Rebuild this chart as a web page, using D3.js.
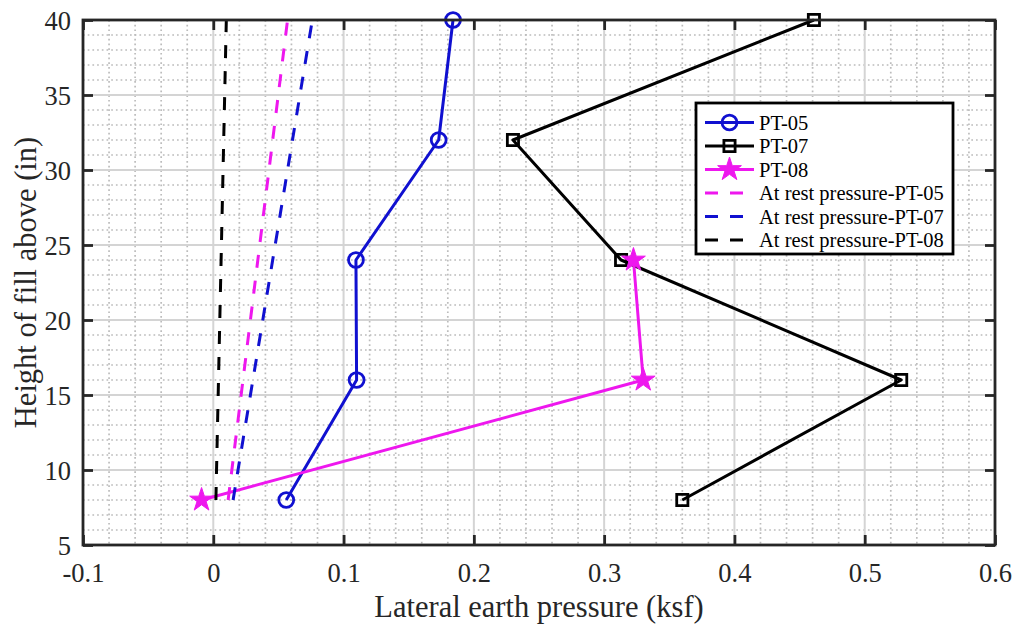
<!DOCTYPE html>
<html>
<head>
<meta charset="utf-8">
<script src="https://cdn.jsdelivr.net/npm/d3@7"></script>
<style>
  html, body { margin: 0; padding: 0; background: #fff; }
  svg { display: block; }
  svg text { font-family: "Liberation Serif", "Times New Roman", serif; fill: #262626; }
</style>
</head>
<body>
<svg id="chart" width="1018" height="626"></svg>
<script>
// Measured lateral earth pressure (ksf) at each height of fill above (in)
const heights = [40, 32, 24, 16, 8];
const pt05 = [0.184, 0.173, 0.1095, 0.110, 0.056];
const pt07 = [0.461, 0.230, 0.313, 0.528, 0.360];
const pt08Heights = [24, 16, 8];
const pt08 = [0.3225, 0.330, -0.009];

// At-rest pressure lines (endpoints at 8 in and 40 in of fill)
const restHeights = [8, 40];
const rest05 = [0.0114, 0.057];
const rest07 = [0.0152, 0.076];
const rest08 = [0.002, 0.010];

const xDomain = [-0.1, 0.6];
const yDomain = [5, 40];
const xTickLabels = ["-0.1", "0", "0.1", "0.2", "0.3", "0.4", "0.5", "0.6"];
const yTickLabels = ["5", "10", "15", "20", "25", "30", "35", "40"];

const legendLabels = ["PT-05", "PT-07", "PT-08",
  "At rest pressure-PT-05", "At rest pressure-PT-07", "At rest pressure-PT-08"];

const BLUE = "#1010d0", MAGENTA = "#ee17ee", BLACK = "#000";
const SERIF = '"Liberation Serif", "Times New Roman", serif';

const svg = d3.select("#chart");
const m = { left: 83, right: 995, top: 20, bottom: 545 };

const x = d3.scaleLinear().domain(xDomain).range([m.left, m.right]);
const y = d3.scaleLinear().domain(yDomain).range([m.bottom, m.top]);

const xMajor = x.ticks(7);
const yMajor = y.ticks(7);
const near = (v, arr) => arr.some(a => Math.abs(a - v) < 1e-9);
const xMinor = x.ticks(35).filter(v => !near(v, xMajor));
const yMinor = y.ticks(35).filter(v => !near(v, yMajor));

// Plot background
svg.append("rect").attr("x", m.left).attr("y", m.top)
  .attr("width", m.right - m.left).attr("height", m.bottom - m.top).attr("fill", "#fff");

// Minor grid (dotted)
const grid = svg.append("g");
grid.selectAll(".vmin").data(xMinor).join("line")
  .attr("x1", d => x(d)).attr("x2", d => x(d)).attr("y1", m.top).attr("y2", m.bottom)
  .attr("stroke", "#bcbcbc").attr("stroke-width", 1.7).attr("stroke-dasharray", "1.7,3");
grid.selectAll(".hmin").data(yMinor).join("line")
  .attr("y1", d => y(d)).attr("y2", d => y(d)).attr("x1", m.left).attr("x2", m.right)
  .attr("stroke", "#bcbcbc").attr("stroke-width", 1.7).attr("stroke-dasharray", "1.7,3");
// Major grid (solid light)
grid.selectAll(".vmaj").data(xMajor).join("line")
  .attr("x1", d => x(d)).attr("x2", d => x(d)).attr("y1", m.top).attr("y2", m.bottom)
  .attr("stroke", "#d4d4d4").attr("stroke-width", 2);
grid.selectAll(".hmaj").data(yMajor).join("line")
  .attr("y1", d => y(d)).attr("y2", d => y(d)).attr("x1", m.left).attr("x2", m.right)
  .attr("stroke", "#d4d4d4").attr("stroke-width", 2);

// Axes with inward ticks on all four sides
const tickLen = 10;
const fmtX = (d, i) => xTickLabels[i];
const fmtY = (d, i) => yTickLabels[i];
const axB = svg.append("g").attr("transform", `translate(0,${m.bottom})`)
  .call(d3.axisBottom(x).tickValues(xMajor).tickFormat(fmtX).tickSizeInner(-tickLen).tickSizeOuter(0).tickPadding(18));
const axT = svg.append("g").attr("transform", `translate(0,${m.top})`)
  .call(d3.axisTop(x).tickValues(xMajor).tickFormat("").tickSizeInner(-tickLen).tickSizeOuter(0));
const axL = svg.append("g").attr("transform", `translate(${m.left},0)`)
  .call(d3.axisLeft(y).tickValues(yMajor).tickFormat(fmtY).tickSizeInner(-tickLen).tickSizeOuter(0).tickPadding(12));
const axR = svg.append("g").attr("transform", `translate(${m.right},0)`)
  .call(d3.axisRight(y).tickValues(yMajor).tickFormat("").tickSizeInner(-tickLen).tickSizeOuter(0));
[axB, axT, axL, axR].forEach(a => {
  a.attr("font-family", null).attr("font-size", null);
  a.select(".domain").remove();
  a.selectAll(".tick line").attr("stroke", "#262626").attr("stroke-width", 2.8);
  a.selectAll(".tick text").style("font-family", SERIF)
    .style("font-size", "26.5px").attr("fill", "#262626");
});
axL.selectAll(".tick text").attr("dy", "0.34em");
axB.selectAll(".tick text").attr("dy", "0.71em");

// Data lines
const line = d3.line().x(d => x(d[0])).y(d => y(d[1]));
const plot = svg.append("g");

function series(vals, hts, color, dash, width) {
  const pts = vals.map((v, i) => [v, hts[i]]);
  plot.append("path").attr("d", line(pts)).attr("fill", "none")
    .attr("stroke", color).attr("stroke-width", width)
    .attr("stroke-dasharray", dash || null).attr("stroke-linejoin", "round");
  return pts;
}
function markers(pts, type, size, color, filled) {
  plot.selectAll(null).data(pts).join("path")
    .attr("transform", d => `translate(${x(d[0])},${y(d[1])})`)
    .attr("d", d3.symbol(type, size)())
    .attr("fill", filled ? color : "none")
    .attr("stroke", color).attr("stroke-width", filled ? 1 : 2.8);
}

const p05 = series(pt05, heights, BLUE, null, 3);
markers(p05, d3.symbolCircle, 175, BLUE, false);
const p07 = series(pt07, heights, BLACK, null, 3);
markers(p07, d3.symbolSquare, 125, BLACK, false);
const p08 = series(pt08, pt08Heights, MAGENTA, null, 3);
markers(p08, d3.symbolStar, 175, MAGENTA, true);

series(rest05, restHeights, MAGENTA, "13,13", 3);
series(rest07, restHeights, BLUE, "13,13", 3);
series(rest08, restHeights, BLACK, "13,13", 3);

// Axes box
svg.append("rect").attr("x", m.left).attr("y", m.top)
  .attr("width", m.right - m.left).attr("height", m.bottom - m.top)
  .attr("fill", "none").attr("stroke", "#262626").attr("stroke-width", 2.8);

// Axis labels
svg.append("text").attr("x", (m.left + m.right) / 2).attr("y", 617)
  .attr("text-anchor", "middle").style("font-size", "30.5px")
  .text("Lateral earth pressure (ksf)");
svg.append("text").attr("transform", `translate(36,${(m.top + m.bottom) / 2}) rotate(-90)`)
  .attr("text-anchor", "middle").style("font-size", "30.5px")
  .text("Height of fill above (in)");

// Legend
const lg = svg.append("g");
const lgBox = { x: 696, y: 103, w: 257, h: 151 };
lg.append("rect").attr("x", lgBox.x).attr("y", lgBox.y).attr("width", lgBox.w).attr("height", lgBox.h)
  .attr("fill", "#fff").attr("stroke", "#000").attr("stroke-width", 2.8);
const rowY = i => 122.5 + i * 23.5;
const styles = [
  { c: BLUE, dash: null, sym: d3.symbolCircle, size: 175, fill: false },
  { c: BLACK, dash: null, sym: d3.symbolSquare, size: 125, fill: false },
  { c: MAGENTA, dash: null, sym: d3.symbolStar, size: 175, fill: true },
  { c: MAGENTA, dash: "13,12", sym: null },
  { c: BLUE, dash: "13,12", sym: null },
  { c: BLACK, dash: "13,12", sym: null }
];
legendLabels.forEach((lab, i) => {
  const s = styles[i], yy = rowY(i);
  lg.append("line").attr("x1", 705).attr("x2", 754).attr("y1", yy).attr("y2", yy)
    .attr("stroke", s.c).attr("stroke-width", 3).attr("stroke-dasharray", s.dash);
  if (s.sym) {
    lg.append("path").attr("transform", `translate(729.5,${yy})`)
      .attr("d", d3.symbol(s.sym, s.size)())
      .attr("fill", s.fill ? s.c : "none").attr("stroke", s.c)
      .attr("stroke-width", s.fill ? 1 : 2.8);
  }
  lg.append("text").attr("x", 759).attr("y", yy).attr("dy", "0.35em")
    .style("font-size", "20.5px").style("fill", "#000").text(lab);
});
</script>
</body>
</html>
